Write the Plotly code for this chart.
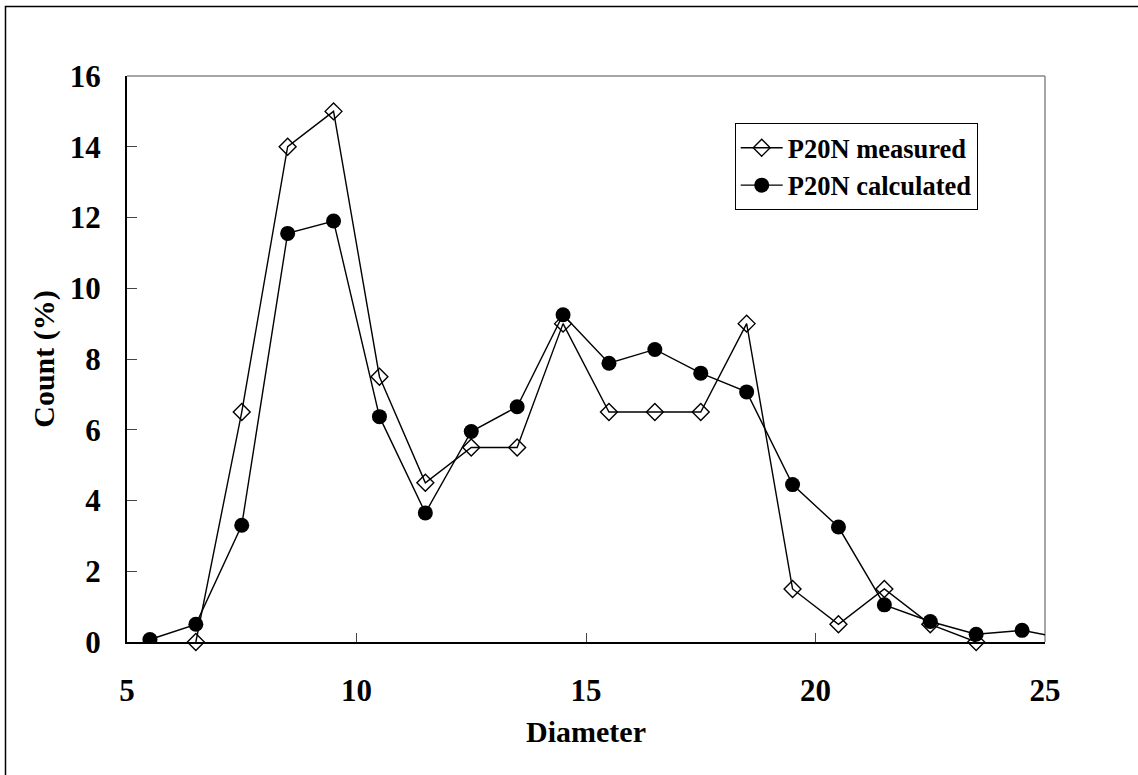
import plotly.graph_objects as go

diam_measured = [6.5, 7.5, 8.5, 9.5, 10.5, 11.5, 12.5, 13.5, 14.5, 15.5, 16.5, 17.5, 18.5, 19.5, 20.5, 21.5, 22.5, 23.5]
count_measured = [0, 6.5, 14, 15, 7.5, 4.5, 5.5, 5.5, 9, 6.5, 6.5, 6.5, 9, 1.5, 0.5, 1.5, 0.5, 0]

diam_calc = [5.5, 6.5, 7.5, 8.5, 9.5, 10.5, 11.5, 12.5, 13.5, 14.5, 15.5, 16.5, 17.5, 18.5, 19.5, 20.5, 21.5, 22.5, 23.5, 24.5, 25.5]
count_calc = [0.07, 0.5, 3.3, 11.55, 11.9, 6.37, 3.65, 5.95, 6.65, 9.25, 7.88, 8.27, 7.6, 7.07, 4.45, 3.25, 1.05, 0.58, 0.22, 0.33, 0.08]

x_ticks = [5, 10, 15, 20, 25]
y_ticks = [0, 2, 4, 6, 8, 10, 12, 14, 16]

FONT = "Liberation Serif"

fig = go.Figure()
fig.add_trace(go.Scatter(
    x=diam_measured, y=count_measured, mode="lines+markers", name="<b>P20N measured</b>",
    line=dict(color="black", width=1.4),
    marker=dict(symbol="diamond-open", size=13, color="black", line=dict(width=1.4, color="black")),
    cliponaxis=False,
))
fig.add_trace(go.Scatter(
    x=diam_calc, y=count_calc, mode="lines+markers", name="<b>P20N calculated</b>",
    line=dict(color="black", width=1.4),
    marker=dict(symbol="circle", size=15, color="black"),
    cliponaxis=True,
))

fig.update_layout(
    width=1138, height=775,
    margin=dict(l=127, r=93, t=76, b=133),
    paper_bgcolor="white", plot_bgcolor="white",
    font=dict(family=FONT, color="black"),
    showlegend=True,
    legend=dict(
        x=0.662, y=0.917, xanchor="left", yanchor="top",
        bgcolor="white", bordercolor="black", borderwidth=1,
        font=dict(family=FONT, size=26.5, color="black"),
        tracegroupgap=0, itemsizing="trace", itemwidth=42,
    ),
    xaxis=dict(
        range=[5, 25], tickvals=x_ticks, ticktext=[f"<b>{v}</b>" for v in x_ticks],
        ticks="inside", ticklen=9, tickwidth=1, tickcolor="#444",
        showline=True, linecolor="black", linewidth=2, showgrid=False, zeroline=False,
        tickfont=dict(family=FONT, size=31, color="black"),
        ticklabelstandoff=20,
        title=dict(text="<b>Diameter</b>", font=dict(family=FONT, size=30, color="black"), standoff=14),
    ),
    yaxis=dict(
        range=[0, 16], tickvals=y_ticks, ticktext=[f"<b>{v}</b>" for v in y_ticks],
        ticks="inside", ticklen=10, tickwidth=1, tickcolor="#444",
        showline=True, linecolor="black", linewidth=2, showgrid=False, zeroline=False,
        tickfont=dict(family=FONT, size=31, color="black"),
        ticklabelstandoff=18,
        title=dict(text="<b>Count (%)</b>", font=dict(family=FONT, size=30, color="black"), standoff=6),
    ),
    shapes=[
        dict(type="line", xref="paper", yref="paper", x0=0, x1=1, y0=1, y1=1,
             line=dict(color="#888", width=1.5), layer="below"),
        dict(type="line", xref="paper", yref="paper", x0=1, x1=1, y0=0, y1=1,
             line=dict(color="#888", width=1.5), layer="below"),
        dict(type="rect", xref="paper", yref="paper",
             x0=(5.5 - 127) / 918, x1=(1145 - 127) / 918,
             y0=1 - (782 - 76) / 566, y1=1 - (6.5 - 76) / 566,
             line=dict(color="black", width=1.5), fillcolor="rgba(0,0,0,0)"),
    ],
)

fig.write_html("out.html")
